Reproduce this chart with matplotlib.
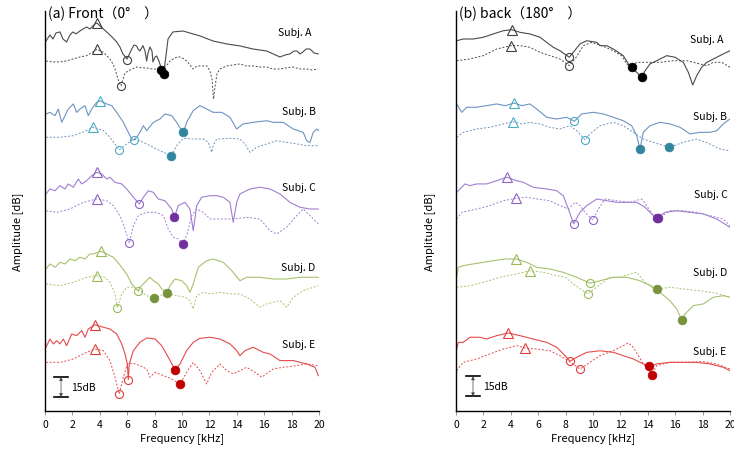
import matplotlib.pyplot as plt
import numpy as np

plt.rcParams['font.family'] = ['Noto Sans CJK JP', 'DejaVu Sans']

# ── curves: (frequency kHz, amplitude dB, stacked) ──────────────────────────
# (a) front 0 deg
FRONT_A_SOLID = [(0.07, 277.5), (0.36, 282), (0.58, 279), (0.80, 283.5), (1.09, 284.3), (1.31, 279),
                 (1.58, 276.8), (1.82, 282), (2.04, 284.3), (2.26, 282.8), (2.55, 285), (2.77, 286.5),
                 (3.04, 288), (3.28, 286.5), (3.65, 290.3), (3.80, 291), (4.01, 288.8), (4.50, 284.3),
                 (4.89, 280.5), (5.23, 276.8), (5.47, 273), (5.69, 267.8), (5.99, 264), (6.13, 267),
                 (6.33, 271.5), (6.50, 274.5), (6.69, 273.8), (6.79, 271.5), (6.93, 270), (7.15, 274),
                 (7.30, 270), (7.42, 262.5), (7.52, 268.5), (7.66, 273), (7.81, 270), (7.88, 261.8),
                 (8.03, 265.5), (8.15, 266.3), (8.32, 262.5), (8.50, 256.5), (8.65, 252.8), (8.80, 264),
                 (8.98, 279), (9.34, 284.3), (10.07, 285), (11.31, 281.3), (12.26, 277.5), (13.26, 275.3),
                 (14.23, 273.8), (15.18, 271.5), (16.18, 270), (17.15, 265.5), (17.52, 267), (17.88, 267.8),
                 (18.18, 270), (18.39, 270), (18.61, 267.8), (18.83, 269.3), (19.05, 271.5), (19.34, 271.5),
                 (19.64, 268.5), (19.93, 267.8)]
FRONT_A_DASHED = [(0.07, 262.5), (0.58, 261.8), (1.09, 261.8), (1.53, 262.5), (2.04, 264), (2.55, 265.5),
                  (3.04, 266.5), (3.50, 269.3), (3.80, 271.5), (4.01, 270), (4.23, 269.3), (4.53, 266.3),
                  (4.74, 264), (4.96, 260.3), (5.11, 256.5), (5.26, 251.3), (5.40, 246.8), (5.55, 243.8),
                  (5.69, 249), (5.84, 253.5), (6.06, 255), (6.35, 256.5), (6.69, 258), (7.08, 257.3),
                  (7.42, 257.3), (7.81, 256.5), (8.15, 256.5), (8.47, 255.8), (8.69, 258), (8.88, 259),
                  (9.12, 262.5), (9.34, 264), (9.64, 265.5), (9.85, 265.5), (10.15, 264), (10.34, 262.5),
                  (10.58, 259.5), (10.80, 256.5), (11.09, 258.8), (11.31, 258.8), (11.61, 258.8),
                  (11.82, 258.8), (12.04, 255), (12.19, 249), (12.30, 234), (12.41, 243), (12.55, 252.8),
                  (12.77, 256.5), (13.26, 258.8), (13.72, 259.5), (14.23, 260.3), (14.67, 258.8),
                  (15.18, 258.8), (15.69, 258), (16.18, 258), (16.64, 256.5), (17.15, 256.5), (17.59, 257.3),
                  (18.10, 258), (18.61, 256.5), (19.10, 256.5), (19.49, 255.8), (19.93, 256.5)]
FRONT_B_SOLID = [(0.07, 222.8), (0.36, 224), (0.73, 221.5), (0.97, 226.5), (1.22, 216.5), (1.46, 221.5),
                 (1.70, 226.5), (2.07, 230.3), (2.31, 224), (2.55, 226.5), (2.92, 229), (3.16, 221.5),
                 (3.41, 226.5), (3.77, 231.5), (4.01, 232.7), (4.50, 230.3), (4.87, 229), (5.23, 224),
                 (5.72, 216.5), (6.08, 209), (6.33, 204), (6.50, 203.3), (6.69, 205.3), (6.93, 209),
                 (7.18, 214), (7.42, 210.3), (7.91, 216.5), (8.39, 219), (8.76, 222.8), (9.25, 221.5),
                 (9.61, 216.5), (9.98, 210.3), (10.10, 209), (10.34, 216.5), (10.82, 225.3), (11.31, 229),
                 (11.80, 226.5), (12.28, 224), (12.90, 224), (13.50, 220.3), (13.99, 211.5), (14.47, 215.3),
                 (15.20, 216.5), (16.18, 217.7), (16.66, 216.5), (17.39, 216.5), (18.12, 211.5), (18.85, 209),
                 (19.10, 202.7), (19.34, 201.5), (19.58, 209), (19.83, 211.5), (19.95, 210.3)]
FRONT_B_DASHED = [(0.07, 205.3), (1.09, 205.3), (2.07, 206.5), (3.04, 210.3), (3.48, 212.8), (4.26, 210.3),
                  (4.74, 205.3), (5.11, 200.3), (5.42, 195.8), (5.96, 200.3), (6.45, 204), (6.93, 202.7),
                  (7.66, 199), (8.39, 195.2), (9.20, 191.5), (9.61, 199), (10.10, 204.5), (10.82, 204),
                  (11.55, 204), (11.92, 201.5), (12.17, 194), (12.28, 199), (12.53, 204), (13.50, 204.5),
                  (14.23, 204), (14.60, 200.3), (14.96, 194), (15.45, 197.8), (16.18, 200.3), (16.91, 202.7),
                  (17.64, 201.5), (18.37, 200.3), (19.10, 199), (19.95, 199)]
FRONT_C_SOLID = [(0.07, 162.8), (0.36, 166.5), (0.73, 165.2), (1.09, 169), (1.46, 166.5), (1.70, 170.3),
                 (2.07, 167.8), (2.43, 174), (2.68, 170.3), (3.04, 172.7), (3.41, 176.5), (3.77, 179),
                 (4.14, 177.8), (4.50, 174), (4.74, 175.3), (5.11, 171.5), (5.60, 170.3), (5.96, 166.5),
                 (6.45, 160.3), (6.88, 155.3), (7.18, 160.3), (7.54, 165.2), (7.91, 164), (8.27, 159),
                 (8.76, 157.7), (9.25, 151.5), (9.44, 145.3), (9.73, 154), (10.22, 156.5), (10.58, 151.5),
                 (10.82, 135.2), (11.07, 154), (11.44, 160.3), (12.04, 161.5), (12.53, 161.5), (13.01, 160.3),
                 (13.50, 156.5), (13.74, 141.5), (13.99, 156.5), (14.23, 162.8), (14.96, 166.5),
                 (15.69, 167.8), (16.42, 166.5), (17.15, 162.8), (17.88, 156.5), (18.61, 152.8),
                 (19.34, 151.5), (19.95, 151.5)]
FRONT_C_DASHED = [(0.07, 150.2), (0.85, 149), (1.82, 151.5), (2.80, 156.5), (3.77, 159), (4.50, 157.7),
                  (4.99, 154), (5.47, 146.5), (5.84, 136.5), (6.15, 125.8), (6.45, 139), (6.81, 146.5),
                  (7.42, 149), (8.15, 149), (8.64, 146.5), (9.00, 136.5), (9.36, 130.3), (9.73, 129),
                  (10.05, 125.5), (10.34, 131.5), (10.71, 146.5), (11.07, 151.5), (11.55, 149), (12.04, 144),
                  (13.01, 144), (13.74, 144), (14.72, 145.3), (15.69, 144), (16.42, 135.2), (16.91, 132.8),
                  (17.64, 137.8), (18.37, 146.5), (18.85, 151.5), (19.34, 146.5), (19.95, 140.3)]
FRONT_D_SOLID = [(0.07, 106.5), (0.36, 110.3), (0.73, 107.8), (1.09, 111.5), (1.46, 110.3), (1.82, 114),
                 (2.19, 112.7), (2.55, 115.3), (2.92, 114), (3.28, 117.8), (3.53, 117.8), (4.09, 119.8),
                 (4.50, 117.8), (4.99, 115.3), (5.47, 109.5), (5.96, 102.8), (6.33, 95.3), (6.81, 89.8),
                 (6.93, 92.8), (7.30, 96.5), (7.66, 100.3), (7.91, 97.7), (8.27, 95.3), (8.52, 91.5),
                 (8.93, 88.3), (9.12, 94), (9.49, 99), (9.98, 97.7), (10.34, 94), (10.58, 89), (10.82, 95.3),
                 (11.19, 107.8), (11.80, 112.7), (12.28, 114), (13.01, 111.5), (13.63, 105.3), (14.23, 97.7),
                 (14.72, 100.3), (15.69, 100.3), (16.66, 99), (17.64, 99), (18.61, 100.3), (19.95, 100.3)]
FRONT_D_DASHED = [(0.07, 95.3), (1.09, 94), (2.07, 96.5), (3.04, 100.3), (3.77, 101.5), (4.38, 100.3),
                  (4.74, 96.5), (5.11, 87.8), (5.28, 77.3), (5.60, 87.8), (5.96, 92.8), (6.45, 92.8),
                  (6.93, 90.3), (7.42, 86.5), (7.96, 84.5), (8.39, 86.5), (8.93, 88.3), (9.61, 86.5),
                  (10.22, 85.3), (10.58, 82.8), (10.82, 76.5), (11.07, 86.5), (11.55, 89), (12.04, 87.8),
                  (12.77, 89), (13.50, 87.8), (14.23, 87.8), (14.96, 84), (15.69, 77.8), (16.18, 80.3),
                  (16.66, 81.5), (17.15, 82.8), (17.64, 77.8), (18.12, 85.3), (18.85, 90.3), (19.95, 94)]
FRONT_E_SOLID = [(0.07, 47.8), (0.36, 54), (0.61, 50.3), (0.85, 52.7), (1.09, 50.3), (1.34, 54), (1.58, 49),
                 (1.95, 57.8), (2.31, 56.5), (2.68, 60.3), (2.92, 55.3), (3.16, 61.5), (3.65, 64.7),
                 (4.26, 62.8), (4.74, 61.5), (5.23, 57.8), (5.60, 50.3), (5.84, 42.8), (6.01, 35.3),
                 (6.08, 23.5), (6.15, 35.3), (6.45, 45.3), (6.93, 51.5), (7.42, 54.8), (8.03, 54), (8.52, 49),
                 (9.00, 40.3), (9.49, 30.8), (9.85, 35.3), (10.34, 45.3), (10.82, 51.5), (11.31, 54.5),
                 (12.04, 55.3), (12.77, 54), (13.50, 50.3), (13.99, 45.3), (14.23, 41.5), (14.60, 45.3),
                 (15.20, 47.8), (15.93, 44), (16.42, 42.8), (17.15, 37.8), (18.12, 37.8), (19.10, 35.3),
                 (19.71, 32.8), (19.95, 26.5)]
FRONT_E_DASHED = [(0.07, 36.5), (1.09, 36.5), (2.07, 39), (3.04, 44), (3.65, 46.5), (4.26, 45.3), (4.74, 37.8),
                  (5.11, 25.3), (5.42, 12.8), (5.72, 25.3), (6.01, 35.3), (6.45, 35.8), (6.93, 34), (7.42, 31.5),
                  (7.66, 25.3), (8.03, 29), (8.64, 26.5), (9.25, 24), (9.85, 20.3), (10.34, 29), (10.82, 36.5),
                  (11.31, 30.3), (11.80, 20.3), (12.17, 29), (12.77, 35.3), (13.26, 30.3), (13.74, 27.8),
                  (14.23, 30.3), (14.72, 32.8), (15.33, 29), (15.82, 25.3), (16.30, 29), (16.66, 31.5),
                  (17.39, 32.8), (18.37, 34), (19.10, 35.3), (19.95, 34)]

# (b) back 180 deg
BACK_A_SOLID = [(0.05, 277.7), (0.53, 279), (1.26, 279), (1.99, 280.3), (2.72, 282.8), (3.45, 285.2),
                (4.07, 286), (4.67, 284), (5.40, 282.8), (6.13, 280.3), (6.62, 276.5), (7.10, 272.8),
                (7.59, 270.2), (8.27, 265.3), (8.56, 269), (9.05, 275.3), (9.54, 277.7), (10.27, 276.5),
                (10.51, 274), (11.00, 274), (11.48, 271.5), (12.21, 266.5), (12.58, 260.3), (13.19, 254),
                (13.55, 250.3), (13.80, 255.2), (14.16, 260.3), (14.65, 262.7), (15.38, 266.5), (15.99, 265.3),
                (16.59, 261.5), (16.96, 254), (17.28, 244.5), (17.57, 251.5), (17.93, 257.8), (18.30, 261.5),
                (18.54, 262.7), (19.03, 265.3), (19.51, 267.8), (20.0, 270.2)]
BACK_A_DASHED = [(0.05, 262.7), (1.02, 264), (1.99, 266.5), (2.97, 271.5), (4.01, 274), (4.67, 274),
                 (5.40, 272.8), (6.13, 269), (6.86, 266.5), (7.59, 264), (8.27, 259), (8.69, 264), (9.29, 274),
                 (9.91, 276.5), (10.64, 274), (11.48, 270.2), (12.09, 266.5), (12.46, 260.3), (12.82, 257.8),
                 (13.19, 261.5), (13.92, 261.5), (14.89, 261.5), (15.86, 262.7), (16.84, 262.7), (17.81, 260.3),
                 (18.30, 259), (18.78, 261.5), (19.39, 261.5), (20.0, 257.8)]
BACK_B_SOLID = [(0.05, 230.3), (0.42, 224), (0.78, 227.8), (1.51, 227.8), (2.24, 229), (2.97, 230.3),
                (3.58, 229), (4.26, 231), (4.80, 229), (5.40, 230.3), (5.89, 226.5), (6.62, 220.3), (7.35, 219),
                (8.08, 220.3), (8.64, 217.3), (9.17, 222.8), (10.02, 224), (10.75, 222.8), (11.48, 220.3),
                (12.21, 217.7), (12.82, 214), (13.19, 206.5), (13.43, 196.5), (13.67, 209), (14.16, 214),
                (14.89, 216.5), (15.62, 215.3), (16.35, 212.8), (17.08, 207.8), (17.81, 209), (18.54, 209),
                (19.03, 210.2), (19.51, 215.3), (20.0, 219)]
BACK_B_DASHED = [(0.05, 205.3), (0.53, 209), (1.51, 211.5), (2.48, 212.8), (3.45, 215.3), (4.18, 217),
                 (4.80, 215.3), (5.40, 216.5), (6.13, 215.3), (6.86, 212.8), (7.59, 211.5), (8.32, 214),
                 (8.81, 210.2), (9.42, 203.3), (9.78, 207.8), (10.51, 214), (11.48, 216.5), (12.21, 214),
                 (12.94, 209), (13.67, 204), (14.40, 201.5), (15.57, 197.8), (16.59, 201.5), (17.57, 204),
                 (18.54, 200.3), (19.27, 196.5), (20.0, 195.2)]
BACK_C_SOLID = [(0.05, 164), (0.29, 166.5), (0.66, 170.3), (1.02, 169), (1.51, 170.3), (2.24, 170.3),
                (2.97, 172.7), (3.70, 175.3), (4.43, 172.7), (4.91, 171.5), (5.64, 167.8), (6.62, 166.5),
                (7.35, 165.2), (7.83, 161.5), (8.20, 151.5), (8.59, 140.3), (9.05, 149), (9.54, 154),
                (10.27, 159), (11.00, 157.7), (11.73, 156.5), (12.46, 156.5), (13.19, 156.5), (13.80, 152.8),
                (14.28, 147.8), (14.65, 144.5), (15.26, 149), (16.11, 150.2), (17.08, 149), (18.05, 147.8),
                (19.03, 144), (20.0, 137.8)]
BACK_C_DASHED = [(0.05, 144), (0.42, 149), (1.51, 151.5), (2.48, 154), (3.45, 157.7), (4.38, 159.5),
                 (5.16, 160.3), (5.89, 159), (6.86, 157.7), (7.59, 154), (8.20, 151.5), (8.69, 156.5),
                 (9.05, 154), (9.42, 149), (9.98, 143.3), (10.39, 151.5), (10.88, 159), (11.73, 157.7),
                 (12.70, 156.5), (13.55, 159), (13.92, 154), (14.40, 146.5), (14.77, 144.5), (15.62, 150.2),
                 (16.59, 150.2), (17.57, 149), (18.54, 146.5), (19.51, 144), (20.0, 139)]
BACK_D_SOLID = [(0.05, 100.3), (0.17, 107.8), (0.53, 109), (1.26, 110.3), (1.99, 111.5), (2.72, 112.7),
                (3.58, 114), (4.38, 114), (5.16, 111.5), (5.89, 107.8), (6.86, 106.5), (7.83, 104),
                (8.81, 100.3), (9.80, 95.8), (10.51, 97.7), (11.48, 100.3), (12.46, 100.3), (13.43, 97.7),
                (14.16, 94), (14.89, 89), (15.62, 82.7), (16.11, 76.5), (16.47, 68.3), (16.72, 72.8),
                (17.32, 79), (18.05, 80.3), (18.78, 85.3), (19.51, 86.5), (20.0, 85.3)]
BACK_D_DASHED = [(0.05, 92.8), (1.02, 94), (1.99, 96.5), (3.21, 100.3), (4.43, 102.8), (5.40, 105.3),
                 (6.37, 104), (7.35, 101.5), (7.96, 100.3), (8.56, 95.3), (9.61, 87.8), (10.27, 92.8),
                 (11.24, 100.3), (11.97, 100.3), (12.70, 102.8), (13.19, 104), (13.80, 96.5), (14.69, 91.5),
                 (15.62, 92.8), (16.59, 91.5), (17.81, 90.2), (19.03, 88.3), (20.0, 85.3)]
BACK_E_SOLID = [(0.05, 46.5), (0.17, 51.5), (0.53, 51.5), (1.02, 55.3), (1.75, 55.3), (2.24, 54), (2.97, 56.5),
                (3.82, 58.5), (4.67, 56.5), (5.64, 54), (6.62, 51.5), (7.35, 47.8), (7.96, 41.5), (8.32, 37.3),
                (8.81, 40.3), (9.54, 44), (10.51, 45.2), (11.48, 44), (12.21, 41.5), (12.94, 39), (13.67, 35.3),
                (14.11, 33.5), (14.65, 35.3), (15.62, 36.5), (16.59, 36.5), (17.57, 36.5), (18.54, 35.3),
                (19.51, 32.8), (20.0, 30.2)]
BACK_E_DASHED = [(0.05, 30.2), (0.53, 36.5), (1.51, 39), (2.48, 42.8), (3.45, 46.5), (4.43, 49), (5.04, 47.3),
                 (5.89, 46.5), (6.86, 45.2), (7.59, 41.5), (8.20, 37.7), (9.05, 31.5), (9.78, 36.5),
                 (10.51, 41.5), (11.48, 45.2), (12.21, 49), (12.58, 51), (12.94, 47.8), (13.31, 41.5),
                 (13.67, 35.3), (14.04, 31.5), (14.28, 27), (14.65, 34), (15.62, 36.5), (16.59, 36.5),
                 (18.05, 37), (19.03, 35.3), (20.0, 31.5)]

# spectral features per curve: peak P1 (triangle), notch N1 (open), notch N2 (filled)
FRONT_MARKS_SOLID = [[(3.80, 291), (6.01, 263.5), (8.65, 252.8)],
                     [(4.01, 232.7), (6.50, 203.3), (10.10, 209)],
                     [(3.77, 179), (6.88, 155.3), (9.44, 145.3)],
                     [(4.09, 119.8), (6.81, 89.8), (8.93, 88.3)],
                     [(3.65, 64.7), (6.08, 23.5), (9.49, 30.8)]]
FRONT_MARKS_DASHED = [[(3.77, 271.5), (5.55, 243.5), (8.47, 256)],
                      [(3.48, 212.8), (5.42, 195.8), (9.20, 191.5)],
                      [(3.77, 159), (6.15, 125.8), (10.05, 125.5)],
                      [(3.77, 101.5), (5.28, 77.3), (7.96, 84.5)],
                      [(3.65, 46.5), (5.42, 12.8), (9.85, 20.3)]]
BACK_MARKS_SOLID = [[(4.07, 286), (8.27, 265.3), (13.55, 250.3)],
                    [(4.26, 231), (8.64, 217.3), (13.43, 196.5)],
                    [(3.70, 175.3), (8.59, 140.3), (14.65, 144.5)],
                    [(4.38, 114), (9.80, 95.8), (16.47, 68.3)],
                    [(3.82, 58.5), (8.32, 37.3), (14.11, 33.5)]]
BACK_MARKS_DASHED = [[(4.01, 274), (8.27, 259), (12.82, 257.8)],
                     [(4.18, 217), (9.42, 203.3), (15.57, 197.8)],
                     [(4.38, 159.5), (9.98, 143.3), (14.77, 144.5)],
                     [(5.40, 105.3), (9.61, 87.8), (14.69, 91.5)],
                     [(5.04, 47.3), (9.05, 31.5), (14.28, 27)]]

SUBJECTS = ["Subj. A", "Subj. B", "Subj. C", "Subj. D", "Subj. E"]
FRONT_LABEL_POS = [(17.0, 284), (17.3, 225), (17.3, 168), (17.2, 108), (17.3, 50)]
BACK_LABEL_POS = [(17.1, 279), (17.3, 221), (17.4, 163), (17.3, 104), (17.3, 45)]
SCALE_DB = 15

LINE_COLORS = ["#4a4a4a", "#6f93c2", "#a07fd0", "#a8c26e", "#e64a4a"]
OPEN_COLORS = ["#404040", "#4bacc6", "#8f63c4", "#9bbb59", "#e23b3b"]
FILL_COLORS = ["#000000", "#31859c", "#7030a0", "#77933c", "#c00000"]


def draw_curve(ax, pts, marks, i, dashed):
    f, a = np.array(pts).T
    if dashed:
        ax.plot(f, a, color=LINE_COLORS[i], lw=0.7, ls=(0, (2, 1.8)), zorder=2)
    else:
        ax.plot(f, a, color=LINE_COLORS[i], lw=0.8, zorder=2)
    (pf, pa), (n1f, n1a), (n2f, n2a) = marks
    ax.plot(pf, pa, marker="^", ms=6.5, mfc="none", mec=OPEN_COLORS[i], mew=0.8, zorder=3)
    ax.plot(n1f, n1a, marker="o", ms=5.8, mfc="none", mec=OPEN_COLORS[i], mew=0.8, zorder=3)
    ax.plot(n2f, n2a, marker="o", ms=6.3, mfc=FILL_COLORS[i], mec=FILL_COLORS[i], mew=0.5, zorder=4)


fig = plt.figure(figsize=(7.34, 4.52), dpi=100)
ax_f = fig.add_axes([45 / 734, 40 / 452, 274 / 734, 400 / 452])
ax_b = fig.add_axes([456 / 734, 40 / 452, 274 / 734, 400 / 452])

panels = [
    (ax_f, "(a) Front（0°　）",
     [FRONT_A_SOLID, FRONT_B_SOLID, FRONT_C_SOLID, FRONT_D_SOLID, FRONT_E_SOLID],
     [FRONT_A_DASHED, FRONT_B_DASHED, FRONT_C_DASHED, FRONT_D_DASHED, FRONT_E_DASHED],
     FRONT_MARKS_SOLID, FRONT_MARKS_DASHED, FRONT_LABEL_POS, (0.66, 1.68, 18), -0.080),
    (ax_b, "(b) back（180°　）",
     [BACK_A_SOLID, BACK_B_SOLID, BACK_C_SOLID, BACK_D_SOLID, BACK_E_SOLID],
     [BACK_A_DASHED, BACK_B_DASHED, BACK_C_DASHED, BACK_D_DASHED, BACK_E_DASHED],
     BACK_MARKS_SOLID, BACK_MARKS_DASHED, BACK_LABEL_POS, (0.73, 1.75, 18.5), -0.077),
]

for ax, title, solids, dashes, msol, mdash, lpos, (sx0, sx1, sy), ylab_x in panels:
    for i in range(5):
        draw_curve(ax, solids[i], msol[i], i, False)
        draw_curve(ax, dashes[i], mdash[i], i, True)
        ax.text(lpos[i][0], lpos[i][1], SUBJECTS[i], fontsize=7.5, va="center", ha="left")

    # 15 dB scale bar
    y0 = sy - SCALE_DB / 2
    y1 = sy + SCALE_DB / 2
    ax.plot([sx0, sx1], [y0, y0], color="black", lw=1.2)
    ax.plot([sx0, sx1], [y1, y1], color="black", lw=1.2)
    ax.annotate("", xy=((sx0 + sx1) / 2, y1), xytext=((sx0 + sx1) / 2, y0),
                arrowprops=dict(arrowstyle="<|-|>", lw=0.5, color="#444444",
                                mutation_scale=5, shrinkA=0, shrinkB=0))
    ax.text(sx1 + 0.25, sy, f"{SCALE_DB}dB", fontsize=7.5, va="center", ha="left")

    ax.text(0.01, 0.995, title, transform=ax.transAxes, fontsize=10, va="center", ha="left")

    ax.set_xlim(0, 20)
    ax.set_ylim(0, 300)
    ax.set_xticks(range(0, 21, 2))
    ax.set_yticks([])
    ax.tick_params(axis="x", length=3, width=0.6, color="#888888", labelsize=7.5, pad=3)
    for side in ("top", "right"):
        ax.spines[side].set_visible(False)
    for side in ("left", "bottom"):
        ax.spines[side].set_linewidth(1.0)
        ax.spines[side].set_color("black")
    ax.set_xlabel("Frequency [kHz]", fontsize=8, labelpad=2)
    ax.set_ylabel("Amplitude [dB]", fontsize=8)
    ax.yaxis.set_label_coords(ylab_x, 0.45)

fig.savefig("out.png", dpi=100)
